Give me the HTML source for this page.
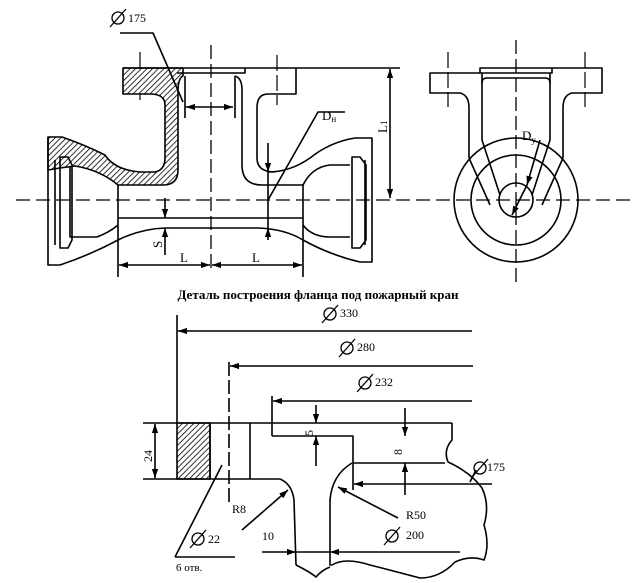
<!DOCTYPE html>
<html><head><meta charset="utf-8"><style>
html,body{margin:0;padding:0;background:#fff;width:636px;height:583px;overflow:hidden}
svg{display:block}
text{font-family:"Liberation Serif",serif;fill:#000}
</style></head><body>
<svg width="636" height="583" viewBox="0 0 636 583" xmlns="http://www.w3.org/2000/svg">
<defs>
<pattern id="h" patternUnits="userSpaceOnUse" width="4" height="4" patternTransform="rotate(45)">
<rect width="4" height="4" fill="#fff"/><line x1="0" y1="0" x2="0" y2="4" stroke="#000" stroke-width="1.6"/></pattern>
<marker id="a" viewBox="0 0 10 10" refX="10" refY="5" markerWidth="9" markerHeight="9" orient="auto-start-reverse" markerUnits="userSpaceOnUse"><path d="M0,1.5 L10,5 L0,8.5z" fill="#000"/></marker>
</defs>
<g fill="none" stroke="#000" stroke-width="1.6" stroke-linejoin="round">
<!-- centerlines -->
<line x1="16" y1="200" x2="632" y2="200" stroke-dasharray="14,6" stroke-width="1.3"/>
<line x1="211" y1="45" x2="211" y2="272" stroke-dasharray="14,5" stroke-width="1.3"/>
<line x1="140" y1="52" x2="140" y2="100" stroke-dasharray="16,4" stroke-width="1.2"/>
<line x1="277" y1="55" x2="277" y2="105" stroke-dasharray="16,4" stroke-width="1.2"/>
<!-- hatched section -->
<path fill="url(#h)" d="M123,68 L183,68 L183,76 Q178,78 178,92 L178,170 Q178,185 163,185 L118,185 Q100,170 75,166 L60,168 L48,170 L48,137 L62,137 Q85,145 105,155 Q115,170 140,172 L155,172 Q165,170 165,158 L165,105 Q165,94 150,94 L123,94 Z"/>
<!-- left hub -->
<path d="M48,137 L48,265 L60,265 Q90,255 118,240 Q140,229 165,228 L258,228 Q285,229 303,240 Q330,255 360,262 L372,262 L372,138 L355,138 Q330,142 310,158 Q290,172 268,172"/>
<path d="M118,185 L118,277 M303,185 L303,277"/>
<path d="M70,166 L70,237 L97,237 Q110,232 118,225"/>
<path d="M55,160 L55,245 M60,157 L68,157 L72,165 L72,240 L68,248 L60,248 Z"/>
<path d="M350,165 L330,165 Q312,167 303,185 M303,225 Q312,237 330,237 L350,237"/>
<path d="M365,160 L365,245 M352,157 L360,157 L366,165 L366,240 L360,248 L352,248 Z"/>
<!-- pipe bore -->
<path d="M118,218 L303,218 M118,185 L118,185"/>
<!-- flange top & right branch -->
<path d="M123,68 L400,68 M183,68 L245,68 L245,73 L177,73"/>
<path d="M296,68 L296,94 L268,94 Q257,94 257,108 L257,158 Q257,172 275,172"/>
<path d="M185,76 L185,118 M235,76 L235,118"/>
<path d="M235,76 Q242,78 242,90 L242,165 Q242,185 262,185 L303,185"/>
<!-- dims main -->
<line x1="186" y1="107" x2="233" y2="107" marker-start="url(#a)" marker-end="url(#a)"/>
<path d="M120,33 L153,33 L183,102"/>
<line x1="119" y1="265" x2="210" y2="265" marker-start="url(#a)" marker-end="url(#a)"/>
<line x1="212" y1="265" x2="302" y2="265" marker-start="url(#a)" marker-end="url(#a)"/>
<line x1="165" y1="198" x2="165" y2="218" marker-end="url(#a)"/>
<line x1="165" y1="255" x2="165" y2="228" marker-end="url(#a)"/>
<line x1="268" y1="143" x2="268" y2="172" marker-end="url(#a)"/>
<line x1="268" y1="240" x2="268" y2="228" marker-end="url(#a)"/>
<line x1="268" y1="172" x2="268" y2="228"/>
<path d="M268,200 L318,112 L345,112"/>
<line x1="390" y1="69" x2="390" y2="198" marker-start="url(#a)" marker-end="url(#a)"/>
<!-- right view -->
<line x1="516" y1="40" x2="516" y2="282" stroke-dasharray="14,5" stroke-width="1.3"/>
<line x1="448" y1="52" x2="448" y2="107" stroke-dasharray="16,4" stroke-width="1.2"/>
<line x1="585" y1="52" x2="585" y2="107" stroke-dasharray="16,4" stroke-width="1.2"/>
<path d="M480,73 L430,73 L430,93 L460,93 Q469,95 469,108 L469,158 M563,158 L563,108 Q563,95 572,93 L602,93 L602,68 L480,68 L480,73 L552,73 L552,68"/>
<path d="M482,73 L482,83 Q482,78 487,78 L545,78 Q550,78 550,83 L550,73"/>
<path d="M482,82 L482,140 L500,195 M550,82 L550,140 L532,195"/>
<path d="M469,158 L490,205 M563,158 L542,205"/>
<circle cx="516" cy="200" r="62"/>
<circle cx="516" cy="200" r="45"/>
<circle cx="516" cy="200" r="17"/>
<line x1="540" y1="140" x2="527" y2="185" marker-end="url(#a)"/>
<line x1="527" y1="185" x2="512" y2="215" marker-end="url(#a)"/>
<!-- detail -->
<line x1="177" y1="315" x2="177" y2="423"/>
<line x1="472" y1="331" x2="178" y2="331" marker-end="url(#a)"/>
<line x1="229" y1="362" x2="229" y2="503" stroke-dasharray="14,4"/>
<line x1="473" y1="366" x2="230" y2="366" marker-end="url(#a)"/>
<line x1="272" y1="396" x2="272" y2="436"/>
<line x1="472" y1="401" x2="273" y2="401" marker-end="url(#a)"/>
<rect x="177" y="423" width="33" height="56" fill="url(#h)"/>
<path d="M143,423 L452,423 M210,423 L210,479 M250,423 L250,479 M143,479 L280,479 Q292,484 294,500 L296,565"/>
<path d="M272,436 L353,436 L353,490 M353,463 L445,463"/>
<path d="M452,423 L452,440 Q443,450 448,462 Q470,472 482,488 Q490,505 484,525 Q490,545 484,560 Q470,555 455,562 Q440,578 420,578 Q390,570 370,565 Q345,557 332,565 L330,565 L330,500 Q332,475 352,463"/>
<path d="M296,565 Q310,572 316,577 Q322,570 330,567"/>
<line x1="155" y1="424" x2="155" y2="478" marker-start="url(#a)" marker-end="url(#a)"/>
<line x1="316" y1="405" x2="316" y2="423" marker-end="url(#a)"/>
<line x1="316" y1="466" x2="316" y2="436" marker-end="url(#a)"/>
<line x1="405" y1="408" x2="405" y2="436" marker-end="url(#a)"/>
<line x1="405" y1="495" x2="405" y2="463" marker-end="url(#a)"/>
<line x1="492" y1="484" x2="354" y2="484" marker-end="url(#a)"/>
<path d="M476,470 L470,482"/>
<line x1="242" y1="530" x2="288" y2="490" marker-end="url(#a)"/>
<line x1="398" y1="518" x2="338" y2="487" marker-end="url(#a)"/>
<path d="M175,557 L235,557 M175,557 L222,465"/>
<line x1="262" y1="552" x2="296" y2="552" marker-end="url(#a)"/>
<line x1="460" y1="552" x2="330" y2="552" marker-end="url(#a)"/>
<line x1="296" y1="552" x2="330" y2="552"/>
</g>
<g font-size="12">
<text x="128" y="22">175</text>
<text x="322" y="120" font-size="13">D<tspan font-size="9" dy="2">н</tspan></text>
<text x="180" y="262" font-size="13">L</text>
<text x="252" y="262" font-size="13">L</text>
<text transform="translate(162,248) rotate(-90)" font-size="13">S</text>
<text transform="translate(387,133) rotate(-90)" font-size="13">L<tspan font-size="9">1</tspan></text>
<text x="522" y="140" font-size="13">D<tspan font-size="9" dy="3">y</tspan></text>
<text x="318" y="299" font-size="13" font-weight="bold" text-anchor="middle">Деталь построения фланца под пожарный кран</text>
<text x="340" y="317">330</text>
<text x="357" y="351">280</text>
<text x="375" y="386">232</text>
<text transform="translate(313,436) rotate(-90)">5</text>
<text transform="translate(402,455) rotate(-90)">8</text>
<text transform="translate(152,462) rotate(-90)">24</text>
<text x="487" y="471">175</text>
<text x="232" y="513">R8</text>
<text x="406" y="519">R50</text>
<text x="208" y="543">22</text>
<text x="176" y="571" font-size="11">6 отв.</text>
<text x="262" y="540">10</text>
<text x="406" y="539">200</text>
</g>
<g fill="none" stroke="#000" stroke-width="1.3">
<circle cx="118" cy="18" r="6"/><line x1="110" y1="27" x2="126" y2="9"/>
<circle cx="330" cy="314" r="6"/><line x1="322" y1="323" x2="338" y2="305"/>
<circle cx="347" cy="348" r="6"/><line x1="339" y1="357" x2="355" y2="339"/>
<circle cx="365" cy="383" r="6"/><line x1="357" y1="392" x2="373" y2="374"/>
<circle cx="480" cy="468" r="6"/><line x1="472" y1="477" x2="488" y2="459"/>
<circle cx="198" cy="539" r="6"/><line x1="190" y1="548" x2="206" y2="530"/>
<circle cx="392" cy="536" r="6"/><line x1="384" y1="545" x2="400" y2="527"/>
</g>
</svg>
</body></html>
